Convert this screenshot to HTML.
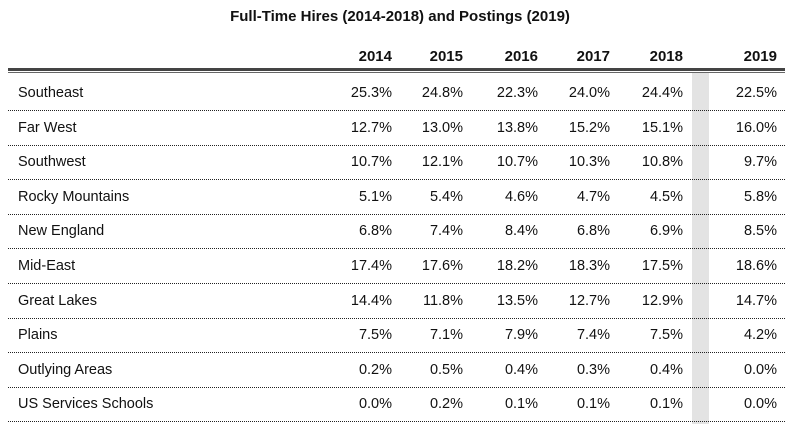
<!DOCTYPE html>
<html><head><meta charset="utf-8"><style>
body{margin:0;width:800px;height:435px;background:#fff;font-family:"Liberation Sans",Arial,sans-serif;color:#111;position:relative;overflow:hidden}
.a{position:absolute;white-space:nowrap;font-size:14.5px;line-height:16px}
.h{font-weight:bold;font-size:15px}
.dot{position:absolute;left:8px;width:777px;height:0;border-top:1px dotted #222}
</style></head><body>
<div class="a h" style="left:0;width:800px;text-align:center;top:9px">Full-Time Hires (2014-2018) and Postings (2019)</div>
<div style="position:absolute;left:692px;width:17px;top:72px;height:352px;background:#e3e3e3"></div>
<div style="position:absolute;left:8px;width:777px;top:68px;height:3px;background:#444"></div>
<div style="position:absolute;left:8px;width:777px;top:72px;height:1px;background:#666"></div>
<div id="t"></div>
<script>
const years=["2014","2015","2016","2017","2018","2019"];
const regions=["Southeast","Far West","Southwest","Rocky Mountains","New England","Mid-East","Great Lakes","Plains","Outlying Areas","US Services Schools"];
const v2014=["25.3%","12.7%","10.7%","5.1%","6.8%","17.4%","14.4%","7.5%","0.2%","0.0%"];
const v2015=["24.8%","13.0%","12.1%","5.4%","7.4%","17.6%","11.8%","7.1%","0.5%","0.2%"];
const v2016=["22.3%","13.8%","10.7%","4.6%","8.4%","18.2%","13.5%","7.9%","0.4%","0.1%"];
const v2017=["24.0%","15.2%","10.3%","4.7%","6.8%","18.3%","12.7%","7.4%","0.3%","0.1%"];
const v2018=["24.4%","15.1%","10.8%","4.5%","6.9%","17.5%","12.9%","7.5%","0.4%","0.1%"];
const v2019=["22.5%","16.0%","9.7%","5.8%","8.5%","18.6%","14.7%","4.2%","0.0%","0.0%"];
const cols=[v2014,v2015,v2016,v2017,v2018,v2019];
const rightX=[392,463,538,610,683,777];
const t=document.getElementById('t');
function mk(cls,txt,x,y,right){const d=document.createElement('div');d.className=cls;d.textContent=txt;if(right){d.style.left=(x-100)+'px';d.style.width='100px';d.style.textAlign='right';}else d.style.left=x+'px';d.style.top=y+'px';t.appendChild(d);return d;}
years.forEach((y,i)=>{const d=mk('a h',y,rightX[i],49,true);

});
regions.forEach((r,j)=>{const cy=93+j*34.6;
const l=mk('a',r,18,cy-8,false);


cols.forEach((c,i)=>{const d=mk('a',c[j],rightX[i],cy-8,true);

});
const s=document.createElement('div');s.className='dot';s.style.top=(cy+17)+'px';


t.appendChild(s);});
</script>
</body></html>
